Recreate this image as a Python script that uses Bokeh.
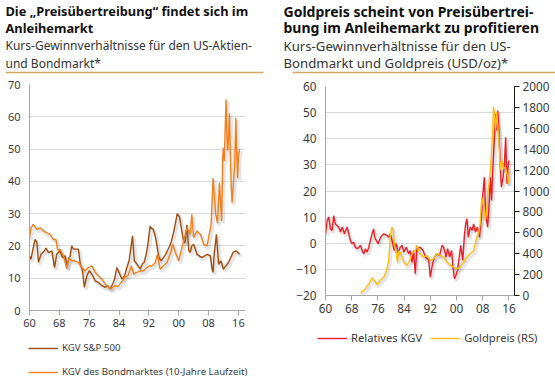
from bokeh.plotting import figure
from bokeh.models import (Legend, LegendItem, LinearAxis, Range1d, FixedTicker, Label, BoxAnnotation)
from bokeh.layouts import row, column
from bokeh.embed import file_html
from bokeh.resources import INLINE

FONT = "Noto Sans"

# ---------------- data: left chart (KGV) ----------------
spx_years = [1960.0, 1960.4, 1961.0, 1961.5, 1962.0, 1962.4, 1963.1, 1964.0, 1964.4, 1965.1,
             1966.0, 1966.7, 1967.3, 1968.2, 1968.8, 1969.6, 1970.0, 1970.5, 1970.9, 1971.3,
             1971.8, 1972.7, 1973.1, 1973.6, 1974.2, 1974.7, 1975.4, 1976.0, 1976.7, 1977.6,
             1978.5, 1979.4, 1980.3, 1981.0, 1981.6, 1982.3, 1982.8, 1983.4, 1984.0, 1984.8,
             1985.5, 1986.1, 1986.7, 1987.3, 1987.6, 1988.1, 1988.8, 1989.7, 1990.3, 1990.7,
             1991.3, 1991.8, 1992.3, 1993.2, 1993.8, 1994.7, 1995.3, 1996.5, 1997.8, 1998.7,
             1999.6, 2000.2, 2000.8, 2001.3, 2001.7, 2002.2, 2002.7, 2003.1, 2003.5, 2004.0,
             2004.9, 2006.2, 2007.6, 2008.5, 2008.9, 2009.2, 2009.5, 2010.1, 2010.7, 2011.3,
             2012.0, 2013.3, 2014.6, 2015.4, 2016.3]
spx_kgv = [16.9, 15.9, 19.5, 22.0, 21.0, 14.9, 17.4, 18.5, 19.3, 17.9,
           18.5, 13.3, 17.4, 18.5, 16.4, 16.9, 13.3, 15.9, 16.9, 20.0,
           19.0, 19.0, 19.0, 14.4, 12.3, 7.2, 10.8, 12.3, 11.3, 9.2,
           8.7, 7.7, 7.2, 7.7, 6.7, 8.2, 9.7, 13.3, 11.8, 9.7,
           10.8, 13.3, 15.4, 20.5, 23.1, 15.4, 14.4, 12.8, 14.5, 14.8,
           17.5, 21.0, 26.0, 25.0, 22.6, 16.4, 15.4, 17.4, 20.5, 24.6,
           30.0, 29.0, 24.8, 21.5, 21.0, 26.5, 18.6, 18.0, 20.0, 20.5,
           17.4, 16.4, 17.4, 16.9, 13.0, 11.8, 17.4, 23.6, 14.3, 15.4,
           12.8, 14.8, 18.0, 18.5, 17.4]

bond_years = [1960.0, 1960.4, 1961.0, 1962.0, 1962.9, 1963.8, 1964.6, 1965.5, 1966.4, 1967.1,
              1967.5, 1967.8, 1968.2, 1969.1, 1970.0, 1970.5, 1971.3, 1972.2, 1973.1, 1974.0,
              1974.9, 1975.8, 1976.7, 1977.6, 1978.5, 1979.4, 1980.3, 1981.2, 1981.9, 1982.8,
              1983.7, 1984.6, 1985.5, 1986.4, 1987.3, 1987.9, 1988.8, 1989.7, 1990.6, 1991.5,
              1992.1, 1992.8, 1993.7, 1994.3, 1995.0, 1995.9, 1996.8, 1997.7, 1998.4, 1999.1,
              2000.0, 2000.4, 2001.3, 2002.2, 2003.1, 2003.5, 2004.0, 2004.9, 2005.8, 2006.7,
              2007.6, 2008.0, 2008.7, 2009.2, 2009.9, 2010.4, 2010.9, 2011.5, 2011.8, 2012.0,
              2012.2, 2012.5, 2012.7, 2012.9, 2013.1, 2013.3, 2013.6, 2013.9, 2014.1, 2014.3,
              2014.7, 2015.0, 2015.3, 2015.5, 2015.8, 2016.0, 2016.3]
bond_kgv = [22.6, 25.6, 26.7, 25.1, 25.6, 24.6, 24.1, 23.6, 22.0, 22.0,
            19.0, 18.5, 19.0, 16.9, 13.0, 16.4, 15.4, 15.4, 14.9, 13.3,
            12.3, 13.3, 13.8, 11.8, 10.8, 9.7, 8.2, 7.2, 6.7, 7.7,
            7.4, 8.7, 10.3, 10.8, 13.8, 11.3, 11.8, 12.3, 12.3, 13.3,
            13.8, 13.8, 14.8, 17.4, 12.8, 13.8, 14.8, 17.4, 20.5, 18.0,
            15.4, 17.4, 21.5, 25.6, 23.6, 29.8, 22.6, 24.6, 23.6, 20.5,
            20.0, 22.6, 26.7, 41.0, 30.0, 27.0, 39.6, 27.7, 48.0, 50.4,
            46.3, 58.0, 65.4, 55.0, 49.5, 52.0, 61.0, 45.0, 38.0, 33.4,
            40.0, 45.0, 59.7, 50.0, 41.0, 48.0, 50.0]

# ---------------- data: right chart (relative KGV, gold) ----------------
rel_years = [1960.0, 1960.5, 1961.0, 1961.5, 1962.0, 1962.5, 1963.0, 1964.0, 1964.6, 1965.1,
             1965.8, 1966.6, 1967.1, 1967.6, 1968.1, 1968.6, 1969.1, 1969.7, 1970.2, 1970.7,
             1971.2, 1971.7, 1972.2, 1972.7, 1973.2, 1973.7, 1974.2, 1974.7, 1975.0, 1975.5,
             1976.1, 1976.8, 1977.8, 1978.8, 1979.3, 1979.8, 1980.3, 1981.0, 1981.6, 1982.3,
             1982.8, 1983.4, 1983.9, 1984.7, 1985.4, 1985.9, 1986.4, 1986.9, 1987.4, 1987.9,
             1988.9, 1989.8, 1990.5, 1991.5, 1992.0, 1992.5, 1993.2, 1994.0, 1994.8, 1995.6,
             1996.1, 1996.8, 1997.3, 1997.9, 1998.5, 1998.9, 1999.4, 1999.8, 2000.3, 2000.9,
             2001.3, 2001.9, 2002.4, 2002.8, 2003.2, 2003.6, 2004.2, 2004.8, 2005.2, 2005.8,
             2006.4, 2007.0, 2007.6, 2008.0, 2008.5, 2008.9, 2009.5, 2009.9, 2010.3, 2010.7,
             2011.1, 2011.5, 2011.9, 2012.3, 2012.6, 2012.9, 2013.3, 2013.7, 2014.2, 2014.6,
             2015.0, 2015.4, 2015.8, 2016.1]
rel_kgv = [3.6, 8.7, 10.0, 5.5, 4.9, 10.6, 7.4, 6.2, 4.3, 6.2,
           3.6, 6.2, 3.6, 1.1, -0.2, 0.4, -1.5, -2.1, -1.5, -0.8,
           -2.8, -4.0, -2.1, -3.4, -1.5, 1.1, 3.6, 5.5, 2.3, 1.1,
           -0.2, 2.3, 3.6, 3.0, 2.3, 3.6, 1.1, -2.8, -0.2, -4.0,
           -1.5, -0.8, -3.4, -1.5, -4.0, -2.8, -7.2, -2.8, -11.7, -2.1,
           -1.5, -2.8, -5.3, -6.6, -13.0, -9.1, -5.3, -4.0, -4.7, -0.8,
           -1.5, -5.3, -2.1, -5.3, -2.8, -9.1, -13.6, -12.3, -10.4, -4.7,
           -0.8, -6.6, 3.0, 7.4, 9.4, 2.3, 6.2, 4.9, 7.4, 4.3,
           6.2, 2.3, 10.0, 18.3, 25.3, 11.3, 6.2, 13.8, 25.3, 16.4,
           29.1, 39.3, 49.5, 43.2, 50.8, 44.4, 30.4, 21.5, 25.3, 29.8,
           40.6, 22.8, 30.4, 31.7]

gold_years = [1970.7, 1972.2, 1973.2, 1974.2, 1974.9, 1975.8, 1976.8, 1977.8, 1978.6, 1979.3,
              1979.8, 1980.3, 1980.6, 1981.0, 1981.6, 1982.0, 1982.4, 1983.0, 1983.9, 1984.9,
              1985.7, 1986.4, 1987.4, 1987.9, 1988.9, 1989.9, 1991.0, 1992.0, 1993.0, 1994.0,
              1995.0, 1996.1, 1997.1, 1998.1, 1999.1, 2000.1, 2001.1, 2002.2, 2003.2, 2004.2,
              2005.2, 2006.2, 2006.7, 2007.2, 2007.7, 2008.3, 2008.8, 2009.3, 2009.8, 2010.3,
              2010.8, 2011.3, 2011.6, 2011.9, 2012.3, 2012.6, 2012.9, 2013.3, 2013.8, 2014.3,
              2014.9, 2015.4, 2015.9, 2016.2]
gold_usd = [25, 65, 112, 170, 145, 105, 150, 175, 240, 335,
            590, 655, 640, 495, 400, 320, 430, 400, 320, 290,
            335, 400, 430, 480, 400, 367, 383, 335, 352, 400,
            383, 368, 320, 288, 272, 255, 272, 320, 368, 400,
            430, 558, 590, 685, 942, 845, 718, 878, 1038, 1198,
            1420, 1803, 1738, 1580, 1755, 1610, 1515, 1198, 1293, 1213,
            1228, 1165, 1070, 1213]

x_ticks = [1960, 1968, 1976, 1984, 1992, 2000, 2008, 2016]
x_tick_labels = ["60", "68", "76", "84", "92", "00", "08", "16"]
left_y_ticks = [0, 10, 20, 30, 40, 50, 60, 70]
right_y_ticks = [-20, -10, 0, 10, 20, 30, 40, 50, 60]
gold_ticks = [0, 200, 400, 600, 800, 1000, 1200, 1400, 1600, 1800, 2000]

left_title = ["Die „Preisübertreibung“ findet sich im", "Anleihemarkt"]
left_sub = ["Kurs-Gewinnverhältnisse für den US-Aktien-", "und Bondmarkt*"]
right_title = ["Goldpreis scheint von Preisübertrei-", "bung im Anleihemarkt zu profitieren"]
right_sub = ["Kurs-Gewinnverhältnisse für den US-", "Bondmarkt und Goldpreis (USD/oz)*"]
left_legend = ["KGV S&P 500", "KGV des Bondmarktes (10-Jahre Laufzeit)"]
right_legend = ["Relatives KGV", "Goldpreis (RS)"]

C_SPX = "#9f4d0c"
C_BOND = "#f07f1c"
C_REL = "#ee1c25"
C_GOLD = "#fdbd12"
AXIS_GRAY = "#a6a6a6"
GRID = "#d9d9d9"
TXT = "#3a3a3a"
RULE = "#cfa862"


def blank_fig(w, h, xr, yr):
    f = figure(width=w, height=h, x_range=xr, y_range=yr, output_backend="svg",
               toolbar_location=None, x_axis_type=None, y_axis_type=None,
               min_border=0, outline_line_color=None, frame_align=False)
    f.grid.visible = False
    f.background_fill_color = "white"
    f.border_fill_color = "white"
    return f


def header(w, x0, rule_left, rule_right, titles, subs, t_fs, s_fs):
    f = blank_fig(w, 76, Range1d(0, w), Range1d(76, 0))
    for y, t in zip([10.5, 27.0], titles):
        f.add_layout(Label(x=x0, y=y, text=t, text_font=FONT, text_font_size=t_fs,
                           text_font_style="bold", text_color="#111111",
                           text_baseline="middle", text_align="left"))
    for y, t in zip([45.0, 62.5], subs):
        f.add_layout(Label(x=x0, y=y, text=t, text_font=FONT, text_font_size=s_fs,
                           text_color="#333333", text_baseline="middle", text_align="left"))
    f.add_layout(BoxAnnotation(left=rule_left, right=rule_right, top=71.3, bottom=72.8,
                               fill_color=RULE, fill_alpha=1.0, line_color=None))
    return f


def style_fig(p, fs):
    p.outline_line_color = None
    p.background_fill_color = "white"
    p.border_fill_color = "white"
    p.xgrid.visible = False
    p.ygrid.grid_line_color = GRID
    p.xaxis.ticker = FixedTicker(ticks=x_ticks)
    p.xaxis.major_label_overrides = {t: s for t, s in zip(x_ticks, x_tick_labels)}
    for ax in p.xaxis:
        ax.axis_line_color = AXIS_GRAY
        ax.major_tick_line_color = AXIS_GRAY
        ax.major_tick_out = 5
        ax.major_tick_in = 0
        ax.minor_tick_line_color = None
        ax.major_label_standoff = 3
        ax.major_label_text_font = FONT
        ax.major_label_text_font_size = fs
        ax.major_label_text_color = TXT
    for ax in p.yaxis:
        ax.axis_line_color = AXIS_GRAY
        ax.major_tick_line_color = None
        ax.major_tick_out = 0
        ax.major_tick_in = 0
        ax.minor_tick_line_color = None
        ax.major_label_standoff = 9
        ax.major_label_text_font = FONT
        ax.major_label_text_font_size = fs
        ax.major_label_text_color = TXT


def shadow(p, xs, ys, dx=0.45, dy=0.7, **kw):
    p.line([x + dx for x in xs], [y - dy for y in ys],
           line_color="#000000", line_alpha=0.10, line_width=3.5, **kw)


def legend_fig(w, h, series, labels, loc, orientation, fs, spacing, gh):
    # legend panel: the series are drawn out of view (ranges 0..1), only their legend shows
    f = blank_fig(w, h, Range1d(0, 1), Range1d(0, 1))
    items = []
    for (xs, ys, c), lab in zip(series, labels):
        r = f.line(xs, ys, line_color=c, line_width=1.4)
        items.append(LegendItem(label=lab, renderers=[r]))
    f.add_layout(Legend(items=items, location=loc, orientation=orientation,
                        border_line_color=None, background_fill_alpha=0, padding=0, margin=0,
                        spacing=spacing, glyph_width=30, glyph_height=gh, label_height=gh,
                        label_standoff=4, label_text_font=FONT, label_text_font_size=fs,
                        label_text_color=TXT))
    return f


# ---------------- left column ----------------
h1 = header(280, 5, 5, 263, left_title, left_sub, "12.8px", "12px")

p1 = figure(width=280, height=260, x_range=Range1d(1960, 2017.9), y_range=Range1d(0, 70),
            output_backend="svg", toolbar_location=None, frame_align=False,
            min_border_left=29, min_border_right=35, min_border_top=8, min_border_bottom=26)
style_fig(p1, "11px")
p1.yaxis.ticker = FixedTicker(ticks=left_y_ticks)
shadow(p1, spx_years, spx_kgv)
shadow(p1, bond_years, bond_kgv)
p1.line(spx_years, spx_kgv, line_color=C_SPX, line_width=1.4)
p1.line(bond_years, bond_kgv, line_color=C_BOND, line_width=1.4)

l1 = legend_fig(280, 42, [(spx_years, spx_kgv, C_SPX), (bond_years, bond_kgv, C_BOND)],
                left_legend, (28, 0), "vertical", "9.7px", 11, 10)

# ---------------- right column ----------------
h2 = header(275, 3, 12, 275, right_title, right_sub, "14px", "13.2px")

p2 = figure(width=275, height=250, x_range=Range1d(1960, 2017.7), y_range=Range1d(-20, 60),
            output_backend="svg", toolbar_location=None, frame_align=False,
            min_border_left=45, min_border_right=41, min_border_top=10, min_border_bottom=31)
p2.extra_y_ranges = {"gold": Range1d(0, 2000)}
style_fig(p2, "11.8px")
p2.yaxis.ticker = FixedTicker(ticks=right_y_ticks)
gold_axis = LinearAxis(y_range_name="gold", ticker=FixedTicker(ticks=gold_ticks),
                       axis_line_color="#1a1a1a", major_tick_line_color="#1a1a1a",
                       major_tick_out=5, major_tick_in=0, minor_tick_line_color=None,
                       major_label_standoff=3, major_label_text_font=FONT,
                       major_label_text_font_size="11.8px", major_label_text_color=TXT)
p2.add_layout(gold_axis, "right")
shadow(p2, rel_years, rel_kgv, dy=0.9)
shadow(p2, gold_years, gold_usd, dy=22, y_range_name="gold")
p2.line(rel_years, rel_kgv, line_color=C_REL, line_width=1.4)
p2.line(gold_years, gold_usd, line_color=C_GOLD, line_width=1.4, y_range_name="gold")

l2 = legend_fig(275, 52, [(rel_years, rel_kgv, C_REL), (gold_years, gold_usd, C_GOLD)],
                right_legend, (37, 33), "horizontal", "11.2px", 8, 12)

layout = row(column(h1, p1, l1), column(h2, p2, l2))
open("out.html", "w").write(file_html(layout, INLINE))
